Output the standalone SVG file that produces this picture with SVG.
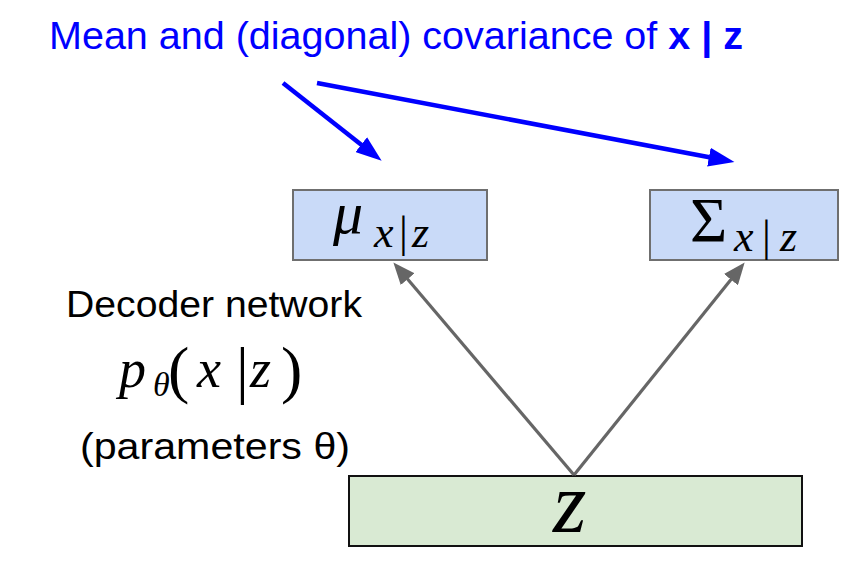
<svg xmlns="http://www.w3.org/2000/svg" width="864" height="576" viewBox="0 0 864 576">
<style>
.sans{font-family:"Liberation Sans",Arial,sans-serif}
.math{font-family:"Liberation Serif","Times New Roman",serif;font-style:italic;fill:#000}
.up{font-style:normal}
.boxb{fill:#c9daf8;stroke:#6f6f6f;stroke-width:2}
.boxg{fill:#d9ead3;stroke:#111;stroke-width:2}
.gray{stroke:#666;stroke-width:3.2;fill:none}
.blue{stroke:#0000ff;stroke-width:4.5;fill:none}
</style>
<defs>
<marker id="ahGray" markerUnits="userSpaceOnUse" viewBox="0 0 22 18" markerWidth="22" markerHeight="18" refX="0.5" refY="9" orient="auto">
<path d="M0,0 L22,9 L0,18 z" fill="#666"/>
</marker>
<marker id="ahBlue" markerUnits="userSpaceOnUse" viewBox="0 0 26 19" markerWidth="26" markerHeight="19" refX="0.5" refY="9.5" orient="auto">
<path d="M0,0 L26,9.5 L0,19 z" fill="#0000ff"/>
</marker>
</defs>
<rect width="864" height="576" fill="#fff"/>
<g id="title">
<text class="sans" x="49" y="49" font-size="38" fill="#0000ff" textLength="694" lengthAdjust="spacingAndGlyphs">Mean and (diagonal) covariance of <tspan font-weight="bold">x | z</tspan></text>
</g>
<g id="mu">
<rect class="boxb" x="293" y="190" width="194" height="70"/>
<text class="math" y="233"><tspan x="333" font-size="60">μ</tspan><tspan x="374" y="247" font-size="44">x</tspan><tspan x="399" y="247" font-size="44" class="up">|</tspan><tspan x="412" y="247" font-size="44">z</tspan></text>
</g>
<g id="sigma">
<rect class="boxb" x="650" y="190" width="188" height="70"/>
<text class="math" y="242"><tspan x="690" font-size="64" class="up">Σ</tspan><tspan x="734" y="251" font-size="44">x</tspan><tspan x="762" y="251" font-size="44" class="up">|</tspan><tspan x="780" y="251" font-size="44">z</tspan></text>
</g>
<g id="z">
<rect class="boxg" x="349" y="476" width="453" height="70"/>
<text class="math" x="553" y="532" font-size="86">z</text>
</g>
<g id="decoder">
<text class="sans" x="66" y="317" font-size="36" fill="#000" textLength="296" lengthAdjust="spacingAndGlyphs">Decoder network</text>
<text class="math" y="387"><tspan x="119" font-size="54">p</tspan><tspan x="153" y="396" font-size="34">θ</tspan><tspan x="168" y="391" font-size="64" class="up">(</tspan><tspan x="197" y="387" font-size="54">x</tspan><tspan x="236" y="391" font-size="64" class="up">|</tspan><tspan x="250" y="387" font-size="54">z</tspan><tspan x="281" y="391" font-size="64" class="up">)</tspan></text>
<text class="sans" x="80" y="459" font-size="37" fill="#000" textLength="270" lengthAdjust="spacingAndGlyphs">(parameters θ)</text>
</g>
<g id="connectors">
<line class="gray" x1="574" y1="475" x2="407.3" y2="278.8" marker-end="url(#ahGray)"/>
<line class="gray" x1="574" y1="475" x2="731.2" y2="279.2" marker-end="url(#ahGray)"/>
<line class="blue" x1="283" y1="83" x2="361.6" y2="144.9" marker-end="url(#ahBlue)"/>
<line class="blue" x1="317" y1="83" x2="709.4" y2="157.2" marker-end="url(#ahBlue)"/>
</g>
</svg>
